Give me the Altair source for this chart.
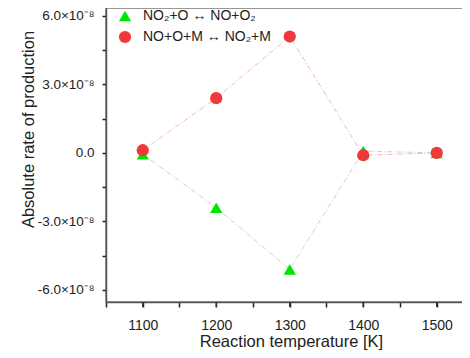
import altair as alt
import pandas as pd

temperatures = [1100, 1200, 1300, 1400, 1500]
series_names = ["NO₂+O ↔ NO+O₂", "NO+O+M ↔ NO₂+M"]
no2_o_values = [-0.05e-8, -2.40e-8, -5.10e-8, 0.08e-8, 0.0]
no_o_m_values = [0.12e-8, 2.40e-8, 5.10e-8, -0.10e-8, 0.0]
y_tick_values = [-6e-8, -4.5e-8, -3e-8, -1.5e-8, 0.0, 1.5e-8, 3e-8, 4.5e-8, 6e-8]
x_tick_values = [1050, 1100, 1150, 1200, 1250, 1300, 1350, 1400, 1450, 1500]
x_major_ticks = [1100, 1200, 1300, 1400, 1500]

rows = []
for t, v in zip(temperatures, no2_o_values):
    rows.append({"T": t, "rate": v, "series": series_names[0], "order": 0})
for t, v in zip(temperatures, no_o_m_values):
    rows.append({"T": t, "rate": v, "series": series_names[1], "order": 1})
df = pd.DataFrame(rows)
tick_df = pd.DataFrame({"T": x_major_ticks})

FONT = "Liberation Sans"
W, H = 360, 294

x_scale = alt.Scale(domain=[1050, 1539.8], nice=False, zero=False)
y_scale = alt.Scale(domain=[-6.53e-8, 6.35e-8], nice=False, zero=False)

x_axis = alt.Axis(
    title="Reaction temperature [K]", values=x_tick_values, format="d",
    labelExpr="datum.value % 100 == 0 ? datum.label : ''",
    tickSize=5, labelPadding=11, labelFontSize=14, titleFontSize=16.5,
    titleX=185, titleY=39, titleBaseline="middle", titleAlign="center",
    grid=False, domainColor="#555555", domainWidth=1.5, tickColor="#222222",
    tickWidth=1.5, tickOpacity=1, labelColor="#222222", titleColor="#222222",
    titleFontWeight="normal", labelFont=FONT, titleFont=FONT,
)

y_axis = alt.Axis(
    title="Absolute rate of production", values=y_tick_values,
    labelExpr="round(datum.value/1.5e-8) % 2 != 0 ? '' : (abs(datum.value) < 1e-12 ? '0.0' : (datum.value < 0 ? '-' : '') + format(abs(datum.value)/1e-8, '.1f') + '×10⁻⁸')",
    tickSize=4,
    labelPadding=8, labelFontSize=13.5, titleFontSize=16.5,
    titleX=-78, titleY=121, titleAngle=-90, titleBaseline="middle", titleAlign="center",
    grid=False, domainColor="#555555", domainWidth=1.5, tickColor="#222222",
    tickWidth=1.5, tickOpacity=1, labelColor="#222222", titleColor="#222222",
    titleFontWeight="normal", labelFont=FONT, titleFont=FONT,
    labelFlush=False, labelOverlap=False,
)

base = alt.Chart(df)

line_green = base.transform_filter(alt.datum.series == series_names[0]).mark_line(
    strokeWidth=1, strokeDash=[5, 2, 1, 2], color="#cfcfcf"
).encode(
    x=alt.X("T:Q", scale=x_scale, axis=x_axis),
    y=alt.Y("rate:Q", scale=y_scale, axis=y_axis),
)
line_red = base.transform_filter(alt.datum.series == series_names[1]).mark_line(
    strokeWidth=1, strokeDash=[5, 2, 1, 2], color="#f6b8b8"
).encode(
    x=alt.X("T:Q", scale=x_scale, axis=x_axis),
    y=alt.Y("rate:Q", scale=y_scale, axis=y_axis),
)

legend = alt.Legend(title=None, orient="none", legendX=12, legendY=1,
                    labelFontSize=14, labelFont=FONT, labelColor="#222222",
                    symbolSize=150, rowPadding=7, labelOffset=11)

points = base.mark_point(filled=True, opacity=1, size=150).encode(
    x=alt.X("T:Q", scale=x_scale, axis=x_axis),
    y=alt.Y("rate:Q", scale=y_scale, axis=y_axis),
    color=alt.Color("series:N", scale=alt.Scale(domain=series_names, range=["#00e600", "#ee3a3a"]),
                    legend=legend),
    shape=alt.Shape("series:N", scale=alt.Scale(domain=series_names, range=["triangle-up", "circle"]),
                    legend=legend),
    order=alt.Order("order:Q"),
)

x_ticks = alt.Chart(tick_df).mark_rule(color="#333333", strokeWidth=1.5).encode(
    x=alt.X("T:Q", scale=x_scale, axis=x_axis),
    y=alt.value(H),
    y2=alt.value(H + 5),
)

chart = alt.layer(line_green, line_red, points, x_ticks).properties(
    width=W, height=H,
    autosize=alt.AutoSizeParams(type="none"),
    padding={"left": 98, "top": 0, "right": -4, "bottom": 48},
).configure(font=FONT).configure_view(stroke="#777777", strokeWidth=1.5)

chart.save("out.html", embed_options={"renderer": "svg", "actions": False})
